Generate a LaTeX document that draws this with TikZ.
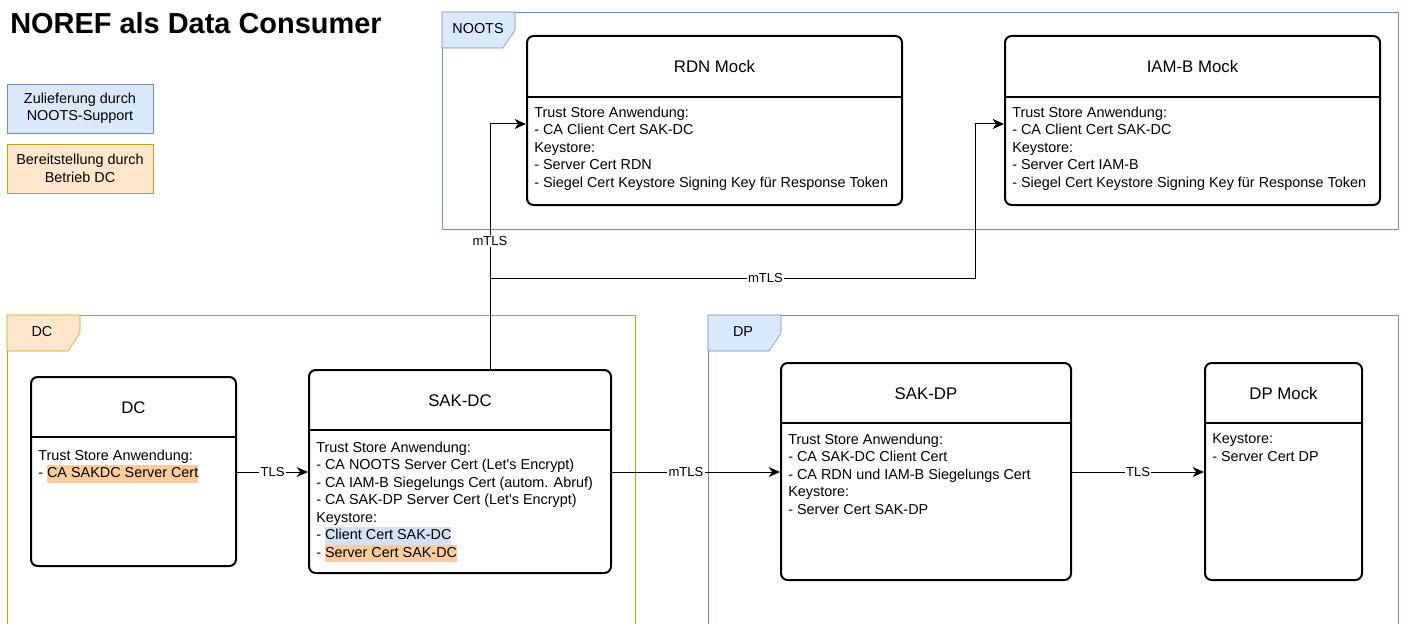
\documentclass[tikz,border=0pt]{standalone}
\usepackage{fontspec}
\setmainfont{Liberation Sans}
\usetikzlibrary{arrows.meta, positioning, fit}
\usepackage{xcolor}

\definecolor{bluefill}{HTML}{DAE8FC}
\definecolor{bluedraw}{HTML}{6C8EBF}
\definecolor{orangefill}{HTML}{FFE6CC}
\definecolor{orangedraw}{HTML}{D79B00}
\definecolor{hlblue}{HTML}{D4E1F5}
\definecolor{hlorange}{HTML}{FFCC99}

\newcommand{\hlb}[1]{{\fboxsep=0pt\colorbox{hlblue}{\strut #1}}}
\newcommand{\hlo}[1]{{\fboxsep=0pt\colorbox{hlorange}{\strut #1}}}

\begin{document}
\begin{tikzpicture}[
    x=0.75pt, y=-0.75pt,
    lane/.style={draw, line width=1.5pt, rounded corners=5pt, inner sep=0pt, fill=white},
    head/.style={font=\fontsize{12.6}{15}\selectfont},
    body/.style={align=left, inner sep=0pt, anchor=north west, font=\fontsize{10.8}{13.1}\selectfont},
    legend/.style={draw, align=center, inner sep=0pt, minimum width=109.5pt, minimum height=36.75pt, font=\fontsize{10.8}{13.1}\selectfont},
    tab/.style={font=\fontsize{10.8}{13}\selectfont},
    arrow/.style={-{Stealth[length=8.5pt, width=7.5pt, inset=2.6pt]}, line width=0.75pt},
    lbl/.style={fill=white, inner sep=1pt, font=\fontsize{9.8}{11}\selectfont}
]
\clip (0,0) rectangle (1402,624);

% Titel und Legende
\node[anchor=west, inner sep=0pt, font=\bfseries\fontsize{21.7}{26}\selectfont] (title) at (10,23) {NOREF als Data Consumer};
\node[legend, fill=bluefill, draw=bluedraw] (noots) at (80,108.5) {Zulieferung durch\\NOOTS-Support};
\node[legend, fill=orangefill, draw=orangedraw] (betrieb) at (80,168.5) {Bereitstellung durch\\Betrieb DC};

% Bereiche
\draw[bluedraw] (442,12) rectangle (1398,229);
\draw[bluedraw, fill=bluefill] (442,12) -- (515,12) -- (515,30) -- (503,48) -- (442,48) -- cycle;
\node[tab] (nootstab) at (478,29) {NOOTS};

\draw[orangedraw] (7,315) rectangle (635,640);
\draw[orangedraw, fill=orangefill] (7,315) -- (80,315) -- (80,333) -- (68,351) -- (7,351) -- cycle;
\node[tab] (dctab) at (42,332) {DC};

\draw[bluedraw] (708,315) rectangle (1398,640);
\draw[bluedraw, fill=bluefill] (708,315) -- (781,315) -- (781,333) -- (769,351) -- (708,351) -- cycle;
\node[tab] (dptab) at (743,332) {DP};

% RDN Mock
\node[lane, fit={(527,36) (902,205)}] (rdn) {};
\draw[line width=1.5pt] (527,97) -- (902,97);
\node[head] (rdnhead) at (714.5,66.5) {RDN Mock};
\node[body] (rdnbody) at (534,106.5) {Trust Store Anwendung:\\- CA Client Cert SAK-DC\\Keystore:\\- Server Cert RDN\\- Siegel Cert Keystore Signing Key für Response Token};

% IAM-B Mock
\node[lane, fit={(1005,36) (1380,205)}] (iam) {};
\draw[line width=1.5pt] (1005,97) -- (1380,97);
\node[head] (iamhead) at (1192.5,66.5) {IAM-B Mock};
\node[body] (iambody) at (1012,106.5) {Trust Store Anwendung:\\- CA Client Cert SAK-DC\\Keystore:\\- Server Cert IAM-B\\- Siegel Cert Keystore Signing Key für Response Token};

% DC
\node[lane, fit={(31,377) (236,566)}] (dc) {};
\draw[line width=1.5pt] (31,437) -- (236,437);
\node[head] (dchead) at (133.5,407.5) {DC};
\node[body] (dcbody) at (38,449.5) {Trust Store Anwendung:\\- \hlo{CA SAKDC Server Cert}};

% SAK-DC
\node[lane, fit={(309,370) (611,573)}] (sakdc) {};
\draw[line width=1.5pt] (309,430) -- (611,430);
\node[head] (sakdchead) at (460,400.5) {SAK-DC};
\node[body] (sakdcbody) at (316,441.5) {Trust Store Anwendung:\\- CA NOOTS Server Cert (Let\textquotesingle s Encrypt)\\- CA IAM-B Siegelungs Cert (autom. Abruf)\\- CA SAK-DP Server Cert (Let\textquotesingle s Encrypt)\\Keystore:\\- \hlb{Client Cert SAK-DC}\\- \hlo{Server Cert SAK-DC}};

% SAK-DP
\node[lane, fit={(781,363) (1071,580)}] (sakdp) {};
\draw[line width=1.5pt] (781,423) -- (1071,423);
\node[head] (sakdphead) at (926,393.5) {SAK-DP};
\node[body] (sakdpbody) at (788,433.5) {Trust Store Anwendung:\\- CA SAK-DC Client Cert\\- CA RDN und IAM-B Siegelungs Cert\\Keystore:\\- Server Cert SAK-DP};

% DP Mock
\node[lane, fit={(1205,363) (1362,580)}] (dpmock) {};
\draw[line width=1.5pt] (1205,423) -- (1362,423);
\node[head] (dpmockhead) at (1283.5,393.5) {DP Mock};
\node[body] (dpmockbody) at (1212,433.5) {Keystore:\\- Server Cert DP};

% Verbindungen
\draw[arrow] (dc.east |- 0,472) -- (sakdc.west |- 0,472) node[lbl, midway] {TLS};
\draw[arrow] (sakdc.east |- 0,472) -- (sakdp.west |- 0,472) node[lbl, pos=0.44] {mTLS};
\draw[arrow] (sakdp.east |- 0,472) -- (dpmock.west |- 0,472) node[lbl, midway] {TLS};
\draw[arrow] (sakdc.north -| 490,0) |- (rdn.west |- 0,124) node[lbl, pos=0.262] {mTLS};
\draw[arrow] (sakdc.north -| 490,0) |- (975,278) node[lbl, pos=0.784] {mTLS} |- (iam.west |- 0,124);

\end{tikzpicture}
\end{document}
